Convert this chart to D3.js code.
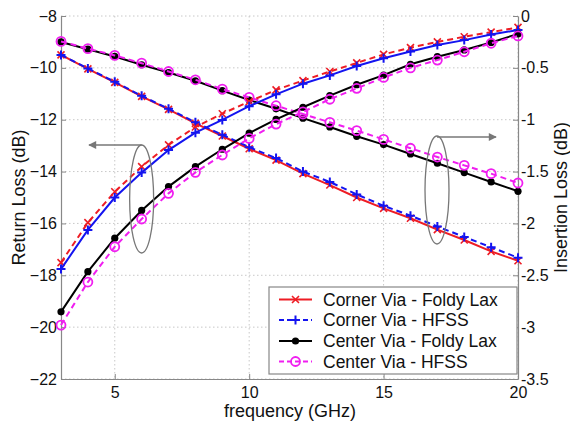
<!DOCTYPE html>
<html>
<head>
<meta charset="utf-8">
<script src="https://cdn.jsdelivr.net/npm/d3@7"></script>
<style>
  body { margin: 0; background: #fff; }
  svg { display: block; font-family: "Liberation Sans", Arial, sans-serif; }
</style>
</head>
<body>
<svg id="chart" width="570" height="425"></svg>
<script>
// ---- data ----
const freq = [3,4,5,6,7,8,9,10,11,12,13,14,15,16,17,18,19,20];

// Return loss (left axis, dB)
const rlCornerFL   = [-17.51,-15.97,-14.78,-13.81,-12.97,-12.28,-11.77,-11.30,-10.85,-10.49,-10.14,-9.81,-9.48,-9.22,-9.00,-8.80,-8.62,-8.44];
const rlCornerHFSS = [-17.76,-16.25,-15.00,-14.04,-13.17,-12.50,-12.01,-11.48,-11.02,-10.61,-10.29,-9.93,-9.63,-9.37,-9.12,-8.93,-8.71,-8.54];
const rlCenterFL   = [-19.41,-17.86,-16.57,-15.50,-14.58,-13.81,-13.14,-12.52,-11.99,-11.52,-11.07,-10.65,-10.28,-9.86,-9.57,-9.31,-9.02,-8.69];
const rlCenterHFSS = [-19.92,-18.26,-16.90,-15.83,-14.84,-14.03,-13.36,-12.72,-12.17,-11.70,-11.21,-10.79,-10.37,-10.00,-9.70,-9.38,-9.05,-8.77];

// Insertion loss (right axis, dB)
const ilCornerFL   = [-0.375,-0.51,-0.64,-0.775,-0.90,-1.035,-1.157,-1.28,-1.39,-1.52,-1.63,-1.75,-1.855,-1.95,-2.06,-2.16,-2.27,-2.36];
const ilCornerHFSS = [-0.375,-0.505,-0.635,-0.77,-0.895,-1.025,-1.145,-1.265,-1.37,-1.50,-1.60,-1.72,-1.83,-1.925,-2.03,-2.13,-2.23,-2.33];
const ilCenterFL   = [-0.25,-0.32,-0.39,-0.47,-0.545,-0.625,-0.72,-0.81,-0.895,-0.985,-1.07,-1.16,-1.24,-1.33,-1.42,-1.51,-1.60,-1.69];
const ilCenterHFSS = [-0.245,-0.315,-0.38,-0.455,-0.535,-0.615,-0.705,-0.785,-0.865,-0.945,-1.025,-1.105,-1.19,-1.275,-1.36,-1.44,-1.52,-1.61];

const xTicks = [5,10,15,20];
const yLeftTicks = [-22,-20,-18,-16,-14,-12,-10,-8];
const yRightTicks = [-3.5,-3,-2.5,-2,-1.5,-1,-0.5,0];
const legendLabels = ["Corner Via - Foldy Lax","Corner Via - HFSS","Center Via - Foldy Lax","Center Via - HFSS"];
const xLabel = "frequency (GHz)";
const yLeftLabel = "Return Loss (dB)";
const yRightLabel = "Insertion Loss (dB)";

// ---- layout ----
const L = 61, R = 518, T = 16, B = 379;
const svg = d3.select("#chart");
const x = d3.scaleLinear().domain([3,20]).range([L,R]);
const yL = d3.scaleLinear().domain([-22,-8]).range([B,T]);
const yR = d3.scaleLinear().domain([-3.5,0]).range([B,T]);

const axisColor = "#888";
const gridColor = "#c8c8c8";

// grid
const grid = svg.append("g");
grid.selectAll(".gx").data(xTicks).join("line")
  .attr("x1", d => x(d)).attr("x2", d => x(d)).attr("y1", T).attr("y2", B)
  .attr("stroke", gridColor).attr("stroke-dasharray","1.5,2.5").attr("stroke-width",1);
grid.selectAll(".gy").data(yLeftTicks).join("line")
  .attr("x1", L).attr("x2", R).attr("y1", d => yL(d)).attr("y2", d => yL(d))
  .attr("stroke", gridColor).attr("stroke-dasharray","1.5,2.5").attr("stroke-width",1);

// axes
function styleAxis(g){
  g.select(".domain").attr("stroke", axisColor).attr("stroke-width",1.2);
  g.selectAll(".tick line").attr("stroke", axisColor);
  g.selectAll(".tick text").attr("fill","#111").style("font-size","16px");
}
svg.append("g").attr("transform",`translate(0,${B})`)
  .call(d3.axisBottom(x).tickValues(xTicks).tickSize(-5).tickSizeOuter(0).tickPadding(8).tickFormat(d3.format("d")))
  .call(styleAxis);
svg.append("g").attr("transform",`translate(${L},0)`)
  .call(d3.axisLeft(yL).tickValues(yLeftTicks).tickSize(-5).tickSizeOuter(0).tickPadding(4).tickFormat(d3.format("d")))
  .call(styleAxis);
svg.append("g").attr("transform",`translate(${R},0)`)
  .call(d3.axisRight(yR).tickValues(yRightTicks).tickSize(-5).tickSizeOuter(0).tickPadding(3).tickFormat(d => String(d)))
  .call(styleAxis);

// axis labels
svg.append("text").attr("x", 290).attr("y", 417).attr("text-anchor","middle")
  .style("font-size","18px").attr("fill","#111").text(xLabel);
svg.append("text").attr("transform",`translate(25,${(T+B)/2}) rotate(-90)`).attr("text-anchor","middle")
  .style("font-size","18px").attr("fill","#111").text(yLeftLabel);
svg.append("text").attr("transform",`translate(567,${(T+B)/2}) rotate(-90)`).attr("text-anchor","middle")
  .style("font-size","18px").attr("fill","#111").text(yRightLabel);

// ---- series ----
const RED = "#ee1c24", BLUE = "#1414f0", BLACK = "#000", MAG = "#f01ef0";
const DASH = "6,4";

function marker(g, type, color, cx, cy){
  if (type === "x") {
    const s = 3.5;
    g.append("path").attr("d",`M${cx-s},${cy-s}L${cx+s},${cy+s}M${cx-s},${cy+s}L${cx+s},${cy-s}`)
      .attr("stroke", color).attr("stroke-width",1.6).attr("fill","none");
  } else if (type === "+") {
    const s = 4.5;
    g.append("path").attr("d",`M${cx-s},${cy}L${cx+s},${cy}M${cx},${cy-s}L${cx},${cy+s}`)
      .attr("stroke", color).attr("stroke-width",2).attr("fill","none");
  } else if (type === "dot") {
    g.append("circle").attr("cx",cx).attr("cy",cy).attr("r",3.6).attr("fill",color);
  } else if (type === "o") {
    g.append("circle").attr("cx",cx).attr("cy",cy).attr("r",4.5).attr("fill","none")
      .attr("stroke",color).attr("stroke-width",1.8);
  }
}

function drawSeries(vals, yScale, color, dashed, mtype){
  const g = svg.append("g");
  const line = d3.line().x((d,i) => x(freq[i])).y(d => yScale(d));
  g.append("path").datum(vals).attr("d", line).attr("fill","none")
    .attr("stroke", color).attr("stroke-width", 2)
    .attr("stroke-dasharray", dashed ? DASH : null);
  vals.forEach((v,i) => marker(g, mtype, color, x(freq[i]), yScale(v)));
}

// insertion loss
drawSeries(ilCornerFL,   yR, RED,   false, "x");
drawSeries(ilCornerHFSS, yR, BLUE,  true,  "+");
drawSeries(ilCenterFL,   yR, BLACK, false, "dot");
drawSeries(ilCenterHFSS, yR, MAG,   true,  "o");
// return loss
drawSeries(rlCornerFL,   yL, RED,   true,  "x");
drawSeries(rlCornerHFSS, yL, BLUE,  false, "+");
drawSeries(rlCenterFL,   yL, BLACK, false, "dot");
drawSeries(rlCenterHFSS, yL, MAG,   true,  "o");

// ---- annotations (ellipses + arrows) ----
const annColor = "#777";
const defs = svg.append("defs");
defs.append("marker").attr("id","arrow").attr("viewBox","0 0 10 10").attr("refX",9).attr("refY",5)
  .attr("markerWidth",10).attr("markerHeight",8).attr("markerUnits","userSpaceOnUse").attr("orient","auto")
  .append("path").attr("d","M0,0L10,5L0,10Z").attr("fill",annColor);

const ann = svg.append("g");
ann.append("ellipse").attr("cx", x(6)).attr("cy",199).attr("rx",12).attr("ry",54)
  .attr("fill","none").attr("stroke",annColor).attr("stroke-width",1.3);
ann.append("line").attr("x1", x(6)).attr("y1",145).attr("x2",89).attr("y2",145)
  .attr("stroke",annColor).attr("stroke-width",1.3).attr("marker-end","url(#arrow)");
ann.append("ellipse").attr("cx",437).attr("cy",190).attr("rx",12).attr("ry",54)
  .attr("fill","none").attr("stroke",annColor).attr("stroke-width",1.3);
ann.append("line").attr("x1",437).attr("y1",137).attr("x2",496).attr("y2",137)
  .attr("stroke",annColor).attr("stroke-width",1.3).attr("marker-end","url(#arrow)");

// ---- legend ----
const leg = svg.append("g");
leg.append("rect").attr("x",269).attr("y",287).attr("width",248).attr("height",87)
  .attr("fill","#fff").attr("stroke",axisColor).attr("stroke-width",1.2);
const legSpec = [
  {color:RED, dashed:false, m:"x"},
  {color:BLUE, dashed:true, m:"+"},
  {color:BLACK, dashed:false, m:"dot"},
  {color:MAG, dashed:true, m:"o"}
];
const legY = [299.5, 320, 341, 361.5];
legSpec.forEach((s,i) => {
  const gy = legY[i];
  leg.append("line").attr("x1",279).attr("x2",312).attr("y1",gy).attr("y2",gy)
    .attr("stroke",s.color).attr("stroke-width",2).attr("stroke-dasharray", s.dashed ? "5,3" : null);
  marker(leg, s.m, s.color, 295.5, gy);
  leg.append("text").attr("x",323).attr("y",gy).attr("dy","0.35em")
    .style("font-size","17.5px").attr("fill","#111").text(legendLabels[i]);
});
</script>
</body>
</html>
